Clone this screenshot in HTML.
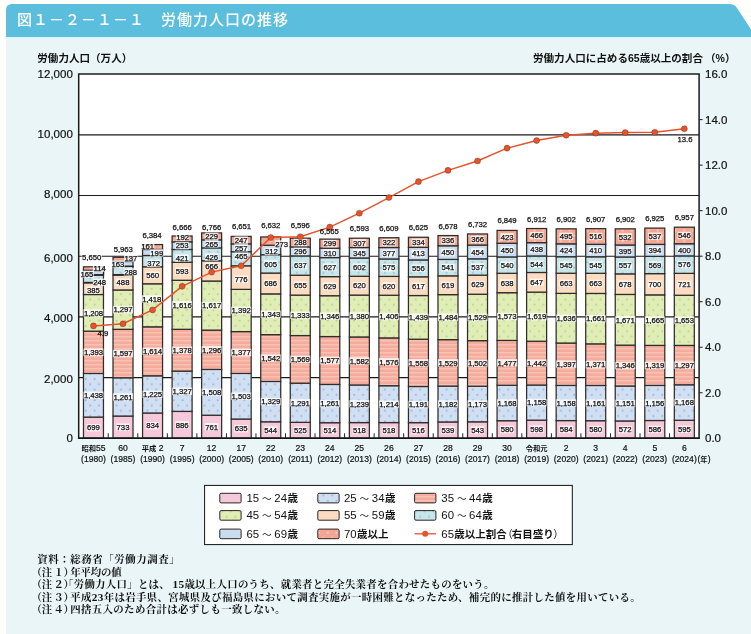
<!DOCTYPE html>
<html lang="ja"><head><meta charset="utf-8"><title>図１－２－１－１ 労働力人口の推移</title>
<style>html,body{margin:0;padding:0;background:#fff}svg{display:block}</style></head>
<body>
<svg width="751" height="634" viewBox="0 0 751 634">
<defs>
<pattern id="pB" width="8.8" height="10.6" patternUnits="userSpaceOnUse"><rect width="8.8" height="10.6" fill="#d0dff1"/><circle cx="2.2" cy="2.6" r="0.95" fill="#93b2dc"/><circle cx="6.6" cy="7.9" r="0.95" fill="#93b2dc"/></pattern>
<pattern id="pG" width="8.8" height="10.6" patternUnits="userSpaceOnUse"><rect width="8.8" height="10.6" fill="#e1edb6"/><circle cx="2.2" cy="2.6" r="0.95" fill="#b4d27c"/><circle cx="6.6" cy="7.9" r="0.95" fill="#b4d27c"/></pattern>
<pattern id="pC" width="8.8" height="10.6" patternUnits="userSpaceOnUse"><rect width="8.8" height="10.6" fill="#c8e5e9"/><circle cx="2.2" cy="2.6" r="0.95" fill="#8cc6ca"/><circle cx="6.6" cy="7.9" r="0.95" fill="#8cc6ca"/></pattern>
<pattern id="pR" width="8.8" height="10.6" patternUnits="userSpaceOnUse"><rect width="8.8" height="10.6" fill="#f3a792"/><circle cx="2.2" cy="2.6" r="0.95" fill="#fbd3c6"/><circle cx="6.6" cy="7.9" r="0.95" fill="#fbd3c6"/></pattern>
<pattern id="pS" width="8" height="4" patternUnits="userSpaceOnUse"><rect width="8" height="4" fill="#f5ac9c"/><rect y="0" width="8" height="1.5" fill="#f8c2b5"/></pattern>
</defs>
<rect x="0" y="0" width="751" height="634" fill="#fffefa"/>
<rect x="6" y="30" width="745" height="604" fill="#e9f5f6"/>
<path d="M6 37.2 V10 Q6 4 12 4 H729 Q734.5 4 737 8 L751 29.5 V37.2 Z" fill="#5bbedd"/>
<rect x="6" y="37.2" width="745" height="1.2" fill="#dbf7fc"/>
<text x="17" y="24.5" font-family="'Liberation Sans','Noto Sans CJK JP',sans-serif" font-size="15" font-weight="500" letter-spacing="1" fill="#fff">図１－２－１－１　労働力人口の推移</text>
<rect x="78.7" y="74.1" width="620.4" height="364.20000000000005" fill="#fff"/>
<line x1="78.7" y1="377.60" x2="699.1" y2="377.60" stroke="#1a1a1a" stroke-width="1.15"/>
<line x1="78.7" y1="316.90" x2="699.1" y2="316.90" stroke="#1a1a1a" stroke-width="1.15"/>
<line x1="78.7" y1="256.20" x2="699.1" y2="256.20" stroke="#1a1a1a" stroke-width="1.15"/>
<line x1="78.7" y1="195.50" x2="699.1" y2="195.50" stroke="#1a1a1a" stroke-width="1.15"/>
<line x1="78.7" y1="134.80" x2="699.1" y2="134.80" stroke="#1a1a1a" stroke-width="1.15"/>
<rect x="83.47" y="417.09" width="20.0" height="21.21" fill="#f6c9da" stroke="#302c2a" stroke-width="1.25"/>
<rect x="83.47" y="373.44" width="20.0" height="43.64" fill="url(#pB)" stroke="#302c2a" stroke-width="1.25"/>
<rect x="83.47" y="331.16" width="20.0" height="42.28" fill="url(#pS)" stroke="#302c2a" stroke-width="1.25"/>
<rect x="83.47" y="294.50" width="20.0" height="36.66" fill="url(#pG)" stroke="#302c2a" stroke-width="1.25"/>
<rect x="83.47" y="282.82" width="20.0" height="11.68" fill="#fbdcc0" stroke="#302c2a" stroke-width="1.25"/>
<rect x="83.47" y="275.29" width="20.0" height="7.53" fill="url(#pC)" stroke="#302c2a" stroke-width="1.25"/>
<rect x="83.47" y="270.28" width="20.0" height="5.01" fill="#c9dcf0" stroke="#302c2a" stroke-width="1.25"/>
<rect x="83.47" y="266.82" width="20.0" height="3.46" fill="url(#pR)" stroke="#302c2a" stroke-width="1.25"/>
<rect x="113.01" y="416.05" width="20.0" height="22.25" fill="#f6c9da" stroke="#302c2a" stroke-width="1.25"/>
<rect x="113.01" y="377.78" width="20.0" height="38.27" fill="url(#pB)" stroke="#302c2a" stroke-width="1.25"/>
<rect x="113.01" y="329.31" width="20.0" height="48.47" fill="url(#pS)" stroke="#302c2a" stroke-width="1.25"/>
<rect x="113.01" y="289.95" width="20.0" height="39.36" fill="url(#pG)" stroke="#302c2a" stroke-width="1.25"/>
<rect x="113.01" y="275.14" width="20.0" height="14.81" fill="#fbdcc0" stroke="#302c2a" stroke-width="1.25"/>
<rect x="113.01" y="266.40" width="20.0" height="8.74" fill="url(#pC)" stroke="#302c2a" stroke-width="1.25"/>
<rect x="113.01" y="261.45" width="20.0" height="4.95" fill="#c9dcf0" stroke="#302c2a" stroke-width="1.25"/>
<rect x="113.01" y="257.29" width="20.0" height="4.16" fill="url(#pR)" stroke="#302c2a" stroke-width="1.25"/>
<rect x="142.56" y="412.99" width="20.0" height="25.31" fill="#f6c9da" stroke="#302c2a" stroke-width="1.25"/>
<rect x="142.56" y="375.81" width="20.0" height="37.18" fill="url(#pB)" stroke="#302c2a" stroke-width="1.25"/>
<rect x="142.56" y="326.82" width="20.0" height="48.98" fill="url(#pS)" stroke="#302c2a" stroke-width="1.25"/>
<rect x="142.56" y="283.79" width="20.0" height="43.04" fill="url(#pG)" stroke="#302c2a" stroke-width="1.25"/>
<rect x="142.56" y="266.79" width="20.0" height="17.00" fill="#fbdcc0" stroke="#302c2a" stroke-width="1.25"/>
<rect x="142.56" y="255.50" width="20.0" height="11.29" fill="url(#pC)" stroke="#302c2a" stroke-width="1.25"/>
<rect x="142.56" y="249.46" width="20.0" height="6.04" fill="#c9dcf0" stroke="#302c2a" stroke-width="1.25"/>
<rect x="142.56" y="244.58" width="20.0" height="4.89" fill="url(#pR)" stroke="#302c2a" stroke-width="1.25"/>
<rect x="172.10" y="411.41" width="20.0" height="26.89" fill="#f6c9da" stroke="#302c2a" stroke-width="1.25"/>
<rect x="172.10" y="371.14" width="20.0" height="40.27" fill="url(#pB)" stroke="#302c2a" stroke-width="1.25"/>
<rect x="172.10" y="329.31" width="20.0" height="41.82" fill="url(#pS)" stroke="#302c2a" stroke-width="1.25"/>
<rect x="172.10" y="280.27" width="20.0" height="49.05" fill="url(#pG)" stroke="#302c2a" stroke-width="1.25"/>
<rect x="172.10" y="262.27" width="20.0" height="18.00" fill="#fbdcc0" stroke="#302c2a" stroke-width="1.25"/>
<rect x="172.10" y="249.49" width="20.0" height="12.78" fill="url(#pC)" stroke="#302c2a" stroke-width="1.25"/>
<rect x="172.10" y="241.81" width="20.0" height="7.68" fill="#c9dcf0" stroke="#302c2a" stroke-width="1.25"/>
<rect x="172.10" y="235.99" width="20.0" height="5.83" fill="url(#pR)" stroke="#302c2a" stroke-width="1.25"/>
<rect x="201.64" y="415.20" width="20.0" height="23.10" fill="#f6c9da" stroke="#302c2a" stroke-width="1.25"/>
<rect x="201.64" y="369.44" width="20.0" height="45.77" fill="url(#pB)" stroke="#302c2a" stroke-width="1.25"/>
<rect x="201.64" y="330.10" width="20.0" height="39.33" fill="url(#pS)" stroke="#302c2a" stroke-width="1.25"/>
<rect x="201.64" y="281.03" width="20.0" height="49.08" fill="url(#pG)" stroke="#302c2a" stroke-width="1.25"/>
<rect x="201.64" y="260.81" width="20.0" height="20.21" fill="#fbdcc0" stroke="#302c2a" stroke-width="1.25"/>
<rect x="201.64" y="247.88" width="20.0" height="12.93" fill="url(#pC)" stroke="#302c2a" stroke-width="1.25"/>
<rect x="201.64" y="239.84" width="20.0" height="8.04" fill="#c9dcf0" stroke="#302c2a" stroke-width="1.25"/>
<rect x="201.64" y="232.89" width="20.0" height="6.95" fill="url(#pR)" stroke="#302c2a" stroke-width="1.25"/>
<rect x="231.19" y="419.03" width="20.0" height="19.27" fill="#f6c9da" stroke="#302c2a" stroke-width="1.25"/>
<rect x="231.19" y="373.41" width="20.0" height="45.62" fill="url(#pB)" stroke="#302c2a" stroke-width="1.25"/>
<rect x="231.19" y="331.62" width="20.0" height="41.79" fill="url(#pS)" stroke="#302c2a" stroke-width="1.25"/>
<rect x="231.19" y="289.37" width="20.0" height="42.25" fill="url(#pG)" stroke="#302c2a" stroke-width="1.25"/>
<rect x="231.19" y="265.82" width="20.0" height="23.55" fill="#fbdcc0" stroke="#302c2a" stroke-width="1.25"/>
<rect x="231.19" y="251.71" width="20.0" height="14.11" fill="url(#pC)" stroke="#302c2a" stroke-width="1.25"/>
<rect x="231.19" y="243.91" width="20.0" height="7.80" fill="#c9dcf0" stroke="#302c2a" stroke-width="1.25"/>
<rect x="231.19" y="236.41" width="20.0" height="7.50" fill="url(#pR)" stroke="#302c2a" stroke-width="1.25"/>
<rect x="260.73" y="421.79" width="20.0" height="16.51" fill="#f6c9da" stroke="#302c2a" stroke-width="1.25"/>
<rect x="260.73" y="381.45" width="20.0" height="40.34" fill="url(#pB)" stroke="#302c2a" stroke-width="1.25"/>
<rect x="260.73" y="334.65" width="20.0" height="46.80" fill="url(#pS)" stroke="#302c2a" stroke-width="1.25"/>
<rect x="260.73" y="293.89" width="20.0" height="40.76" fill="url(#pG)" stroke="#302c2a" stroke-width="1.25"/>
<rect x="260.73" y="273.07" width="20.0" height="20.82" fill="#fbdcc0" stroke="#302c2a" stroke-width="1.25"/>
<rect x="260.73" y="254.71" width="20.0" height="18.36" fill="url(#pC)" stroke="#302c2a" stroke-width="1.25"/>
<rect x="260.73" y="245.24" width="20.0" height="9.47" fill="#c9dcf0" stroke="#302c2a" stroke-width="1.25"/>
<rect x="260.73" y="236.96" width="20.0" height="8.29" fill="url(#pR)" stroke="#302c2a" stroke-width="1.25"/>
<rect x="290.27" y="422.37" width="20.0" height="15.93" fill="#f6c9da" stroke="#302c2a" stroke-width="1.25"/>
<rect x="290.27" y="383.18" width="20.0" height="39.18" fill="url(#pB)" stroke="#302c2a" stroke-width="1.25"/>
<rect x="290.27" y="335.57" width="20.0" height="47.62" fill="url(#pS)" stroke="#302c2a" stroke-width="1.25"/>
<rect x="290.27" y="295.11" width="20.0" height="40.46" fill="url(#pG)" stroke="#302c2a" stroke-width="1.25"/>
<rect x="290.27" y="275.23" width="20.0" height="19.88" fill="#fbdcc0" stroke="#302c2a" stroke-width="1.25"/>
<rect x="290.27" y="255.90" width="20.0" height="19.33" fill="url(#pC)" stroke="#302c2a" stroke-width="1.25"/>
<rect x="290.27" y="246.91" width="20.0" height="8.98" fill="#c9dcf0" stroke="#302c2a" stroke-width="1.25"/>
<rect x="290.27" y="238.17" width="20.0" height="8.74" fill="url(#pR)" stroke="#302c2a" stroke-width="1.25"/>
<rect x="319.81" y="422.70" width="20.0" height="15.60" fill="#f6c9da" stroke="#302c2a" stroke-width="1.25"/>
<rect x="319.81" y="384.43" width="20.0" height="38.27" fill="url(#pB)" stroke="#302c2a" stroke-width="1.25"/>
<rect x="319.81" y="336.57" width="20.0" height="47.86" fill="url(#pS)" stroke="#302c2a" stroke-width="1.25"/>
<rect x="319.81" y="295.72" width="20.0" height="40.85" fill="url(#pG)" stroke="#302c2a" stroke-width="1.25"/>
<rect x="319.81" y="276.63" width="20.0" height="19.09" fill="#fbdcc0" stroke="#302c2a" stroke-width="1.25"/>
<rect x="319.81" y="257.60" width="20.0" height="19.03" fill="url(#pC)" stroke="#302c2a" stroke-width="1.25"/>
<rect x="319.81" y="248.19" width="20.0" height="9.41" fill="#c9dcf0" stroke="#302c2a" stroke-width="1.25"/>
<rect x="319.81" y="239.11" width="20.0" height="9.07" fill="url(#pR)" stroke="#302c2a" stroke-width="1.25"/>
<rect x="349.36" y="422.58" width="20.0" height="15.72" fill="#f6c9da" stroke="#302c2a" stroke-width="1.25"/>
<rect x="349.36" y="384.98" width="20.0" height="37.60" fill="url(#pB)" stroke="#302c2a" stroke-width="1.25"/>
<rect x="349.36" y="336.96" width="20.0" height="48.01" fill="url(#pS)" stroke="#302c2a" stroke-width="1.25"/>
<rect x="349.36" y="295.08" width="20.0" height="41.88" fill="url(#pG)" stroke="#302c2a" stroke-width="1.25"/>
<rect x="349.36" y="276.26" width="20.0" height="18.82" fill="#fbdcc0" stroke="#302c2a" stroke-width="1.25"/>
<rect x="349.36" y="257.99" width="20.0" height="18.27" fill="url(#pC)" stroke="#302c2a" stroke-width="1.25"/>
<rect x="349.36" y="247.52" width="20.0" height="10.47" fill="#c9dcf0" stroke="#302c2a" stroke-width="1.25"/>
<rect x="349.36" y="238.20" width="20.0" height="9.32" fill="url(#pR)" stroke="#302c2a" stroke-width="1.25"/>
<rect x="378.90" y="422.58" width="20.0" height="15.72" fill="#f6c9da" stroke="#302c2a" stroke-width="1.25"/>
<rect x="378.90" y="385.73" width="20.0" height="36.84" fill="url(#pB)" stroke="#302c2a" stroke-width="1.25"/>
<rect x="378.90" y="337.90" width="20.0" height="47.83" fill="url(#pS)" stroke="#302c2a" stroke-width="1.25"/>
<rect x="378.90" y="295.23" width="20.0" height="42.67" fill="url(#pG)" stroke="#302c2a" stroke-width="1.25"/>
<rect x="378.90" y="276.41" width="20.0" height="18.82" fill="#fbdcc0" stroke="#302c2a" stroke-width="1.25"/>
<rect x="378.90" y="258.96" width="20.0" height="17.45" fill="url(#pC)" stroke="#302c2a" stroke-width="1.25"/>
<rect x="378.90" y="247.52" width="20.0" height="11.44" fill="#c9dcf0" stroke="#302c2a" stroke-width="1.25"/>
<rect x="378.90" y="237.75" width="20.0" height="9.77" fill="url(#pR)" stroke="#302c2a" stroke-width="1.25"/>
<rect x="408.44" y="422.64" width="20.0" height="15.66" fill="#f6c9da" stroke="#302c2a" stroke-width="1.25"/>
<rect x="408.44" y="386.49" width="20.0" height="36.15" fill="url(#pB)" stroke="#302c2a" stroke-width="1.25"/>
<rect x="408.44" y="339.21" width="20.0" height="47.29" fill="url(#pS)" stroke="#302c2a" stroke-width="1.25"/>
<rect x="408.44" y="295.53" width="20.0" height="43.67" fill="url(#pG)" stroke="#302c2a" stroke-width="1.25"/>
<rect x="408.44" y="276.81" width="20.0" height="18.73" fill="#fbdcc0" stroke="#302c2a" stroke-width="1.25"/>
<rect x="408.44" y="259.93" width="20.0" height="16.87" fill="url(#pC)" stroke="#302c2a" stroke-width="1.25"/>
<rect x="408.44" y="247.40" width="20.0" height="12.53" fill="#c9dcf0" stroke="#302c2a" stroke-width="1.25"/>
<rect x="408.44" y="237.26" width="20.0" height="10.14" fill="url(#pR)" stroke="#302c2a" stroke-width="1.25"/>
<rect x="437.99" y="421.94" width="20.0" height="16.36" fill="#f6c9da" stroke="#302c2a" stroke-width="1.25"/>
<rect x="437.99" y="386.07" width="20.0" height="35.87" fill="url(#pB)" stroke="#302c2a" stroke-width="1.25"/>
<rect x="437.99" y="339.66" width="20.0" height="46.41" fill="url(#pS)" stroke="#302c2a" stroke-width="1.25"/>
<rect x="437.99" y="294.62" width="20.0" height="45.04" fill="url(#pG)" stroke="#302c2a" stroke-width="1.25"/>
<rect x="437.99" y="275.84" width="20.0" height="18.79" fill="#fbdcc0" stroke="#302c2a" stroke-width="1.25"/>
<rect x="437.99" y="259.42" width="20.0" height="16.42" fill="url(#pC)" stroke="#302c2a" stroke-width="1.25"/>
<rect x="437.99" y="245.76" width="20.0" height="13.66" fill="#c9dcf0" stroke="#302c2a" stroke-width="1.25"/>
<rect x="437.99" y="235.56" width="20.0" height="10.20" fill="url(#pR)" stroke="#302c2a" stroke-width="1.25"/>
<rect x="467.53" y="421.82" width="20.0" height="16.48" fill="#f6c9da" stroke="#302c2a" stroke-width="1.25"/>
<rect x="467.53" y="386.22" width="20.0" height="35.60" fill="url(#pB)" stroke="#302c2a" stroke-width="1.25"/>
<rect x="467.53" y="340.63" width="20.0" height="45.59" fill="url(#pS)" stroke="#302c2a" stroke-width="1.25"/>
<rect x="467.53" y="294.23" width="20.0" height="46.41" fill="url(#pG)" stroke="#302c2a" stroke-width="1.25"/>
<rect x="467.53" y="275.14" width="20.0" height="19.09" fill="#fbdcc0" stroke="#302c2a" stroke-width="1.25"/>
<rect x="467.53" y="258.84" width="20.0" height="16.30" fill="url(#pC)" stroke="#302c2a" stroke-width="1.25"/>
<rect x="467.53" y="245.06" width="20.0" height="13.78" fill="#c9dcf0" stroke="#302c2a" stroke-width="1.25"/>
<rect x="467.53" y="233.95" width="20.0" height="11.11" fill="url(#pR)" stroke="#302c2a" stroke-width="1.25"/>
<rect x="497.07" y="420.70" width="20.0" height="17.60" fill="#f6c9da" stroke="#302c2a" stroke-width="1.25"/>
<rect x="497.07" y="385.25" width="20.0" height="35.45" fill="url(#pB)" stroke="#302c2a" stroke-width="1.25"/>
<rect x="497.07" y="340.42" width="20.0" height="44.83" fill="url(#pS)" stroke="#302c2a" stroke-width="1.25"/>
<rect x="497.07" y="292.68" width="20.0" height="47.74" fill="url(#pG)" stroke="#302c2a" stroke-width="1.25"/>
<rect x="497.07" y="273.32" width="20.0" height="19.36" fill="#fbdcc0" stroke="#302c2a" stroke-width="1.25"/>
<rect x="497.07" y="256.93" width="20.0" height="16.39" fill="url(#pC)" stroke="#302c2a" stroke-width="1.25"/>
<rect x="497.07" y="243.27" width="20.0" height="13.66" fill="#c9dcf0" stroke="#302c2a" stroke-width="1.25"/>
<rect x="497.07" y="230.43" width="20.0" height="12.84" fill="url(#pR)" stroke="#302c2a" stroke-width="1.25"/>
<rect x="526.61" y="420.15" width="20.0" height="18.15" fill="#f6c9da" stroke="#302c2a" stroke-width="1.25"/>
<rect x="526.61" y="385.01" width="20.0" height="35.15" fill="url(#pB)" stroke="#302c2a" stroke-width="1.25"/>
<rect x="526.61" y="341.24" width="20.0" height="43.76" fill="url(#pS)" stroke="#302c2a" stroke-width="1.25"/>
<rect x="526.61" y="292.10" width="20.0" height="49.14" fill="url(#pG)" stroke="#302c2a" stroke-width="1.25"/>
<rect x="526.61" y="272.47" width="20.0" height="19.64" fill="#fbdcc0" stroke="#302c2a" stroke-width="1.25"/>
<rect x="526.61" y="255.96" width="20.0" height="16.51" fill="url(#pC)" stroke="#302c2a" stroke-width="1.25"/>
<rect x="526.61" y="242.66" width="20.0" height="13.29" fill="#c9dcf0" stroke="#302c2a" stroke-width="1.25"/>
<rect x="526.61" y="228.52" width="20.0" height="14.14" fill="url(#pR)" stroke="#302c2a" stroke-width="1.25"/>
<rect x="556.16" y="420.58" width="20.0" height="17.72" fill="#f6c9da" stroke="#302c2a" stroke-width="1.25"/>
<rect x="556.16" y="385.43" width="20.0" height="35.15" fill="url(#pB)" stroke="#302c2a" stroke-width="1.25"/>
<rect x="556.16" y="343.03" width="20.0" height="42.40" fill="url(#pS)" stroke="#302c2a" stroke-width="1.25"/>
<rect x="556.16" y="293.38" width="20.0" height="49.65" fill="url(#pG)" stroke="#302c2a" stroke-width="1.25"/>
<rect x="556.16" y="273.26" width="20.0" height="20.12" fill="#fbdcc0" stroke="#302c2a" stroke-width="1.25"/>
<rect x="556.16" y="256.72" width="20.0" height="16.54" fill="url(#pC)" stroke="#302c2a" stroke-width="1.25"/>
<rect x="556.16" y="243.85" width="20.0" height="12.87" fill="#c9dcf0" stroke="#302c2a" stroke-width="1.25"/>
<rect x="556.16" y="228.82" width="20.0" height="15.02" fill="url(#pR)" stroke="#302c2a" stroke-width="1.25"/>
<rect x="585.70" y="420.70" width="20.0" height="17.60" fill="#f6c9da" stroke="#302c2a" stroke-width="1.25"/>
<rect x="585.70" y="385.46" width="20.0" height="35.24" fill="url(#pB)" stroke="#302c2a" stroke-width="1.25"/>
<rect x="585.70" y="343.85" width="20.0" height="41.61" fill="url(#pS)" stroke="#302c2a" stroke-width="1.25"/>
<rect x="585.70" y="293.44" width="20.0" height="50.41" fill="url(#pG)" stroke="#302c2a" stroke-width="1.25"/>
<rect x="585.70" y="273.32" width="20.0" height="20.12" fill="#fbdcc0" stroke="#302c2a" stroke-width="1.25"/>
<rect x="585.70" y="256.78" width="20.0" height="16.54" fill="url(#pC)" stroke="#302c2a" stroke-width="1.25"/>
<rect x="585.70" y="244.33" width="20.0" height="12.44" fill="#c9dcf0" stroke="#302c2a" stroke-width="1.25"/>
<rect x="585.70" y="228.67" width="20.0" height="15.66" fill="url(#pR)" stroke="#302c2a" stroke-width="1.25"/>
<rect x="615.24" y="420.94" width="20.0" height="17.36" fill="#f6c9da" stroke="#302c2a" stroke-width="1.25"/>
<rect x="615.24" y="386.01" width="20.0" height="34.93" fill="url(#pB)" stroke="#302c2a" stroke-width="1.25"/>
<rect x="615.24" y="345.16" width="20.0" height="40.85" fill="url(#pS)" stroke="#302c2a" stroke-width="1.25"/>
<rect x="615.24" y="294.44" width="20.0" height="50.71" fill="url(#pG)" stroke="#302c2a" stroke-width="1.25"/>
<rect x="615.24" y="273.86" width="20.0" height="20.58" fill="#fbdcc0" stroke="#302c2a" stroke-width="1.25"/>
<rect x="615.24" y="256.96" width="20.0" height="16.90" fill="url(#pC)" stroke="#302c2a" stroke-width="1.25"/>
<rect x="615.24" y="244.97" width="20.0" height="11.99" fill="#c9dcf0" stroke="#302c2a" stroke-width="1.25"/>
<rect x="615.24" y="228.82" width="20.0" height="16.15" fill="url(#pR)" stroke="#302c2a" stroke-width="1.25"/>
<rect x="644.79" y="420.51" width="20.0" height="17.79" fill="#f6c9da" stroke="#302c2a" stroke-width="1.25"/>
<rect x="644.79" y="385.43" width="20.0" height="35.08" fill="url(#pB)" stroke="#302c2a" stroke-width="1.25"/>
<rect x="644.79" y="345.40" width="20.0" height="40.03" fill="url(#pS)" stroke="#302c2a" stroke-width="1.25"/>
<rect x="644.79" y="294.87" width="20.0" height="50.53" fill="url(#pG)" stroke="#302c2a" stroke-width="1.25"/>
<rect x="644.79" y="273.62" width="20.0" height="21.25" fill="#fbdcc0" stroke="#302c2a" stroke-width="1.25"/>
<rect x="644.79" y="256.35" width="20.0" height="17.27" fill="url(#pC)" stroke="#302c2a" stroke-width="1.25"/>
<rect x="644.79" y="244.39" width="20.0" height="11.96" fill="#c9dcf0" stroke="#302c2a" stroke-width="1.25"/>
<rect x="644.79" y="228.10" width="20.0" height="16.30" fill="url(#pR)" stroke="#302c2a" stroke-width="1.25"/>
<rect x="674.33" y="420.24" width="20.0" height="18.06" fill="#f6c9da" stroke="#302c2a" stroke-width="1.25"/>
<rect x="674.33" y="384.79" width="20.0" height="35.45" fill="url(#pB)" stroke="#302c2a" stroke-width="1.25"/>
<rect x="674.33" y="345.43" width="20.0" height="39.36" fill="url(#pS)" stroke="#302c2a" stroke-width="1.25"/>
<rect x="674.33" y="295.26" width="20.0" height="50.17" fill="url(#pG)" stroke="#302c2a" stroke-width="1.25"/>
<rect x="674.33" y="273.38" width="20.0" height="21.88" fill="#fbdcc0" stroke="#302c2a" stroke-width="1.25"/>
<rect x="674.33" y="255.90" width="20.0" height="17.48" fill="url(#pC)" stroke="#302c2a" stroke-width="1.25"/>
<rect x="674.33" y="243.76" width="20.0" height="12.14" fill="#c9dcf0" stroke="#302c2a" stroke-width="1.25"/>
<rect x="674.33" y="227.19" width="20.0" height="16.57" fill="url(#pR)" stroke="#302c2a" stroke-width="1.25"/>
<line x1="108.24" y1="438.3" x2="108.24" y2="433.3" stroke="#222" stroke-width="1"/>
<line x1="137.79" y1="438.3" x2="137.79" y2="433.3" stroke="#222" stroke-width="1"/>
<line x1="167.33" y1="438.3" x2="167.33" y2="433.3" stroke="#222" stroke-width="1"/>
<line x1="196.87" y1="438.3" x2="196.87" y2="433.3" stroke="#222" stroke-width="1"/>
<line x1="226.41" y1="438.3" x2="226.41" y2="433.3" stroke="#222" stroke-width="1"/>
<line x1="255.96" y1="438.3" x2="255.96" y2="433.3" stroke="#222" stroke-width="1"/>
<line x1="285.50" y1="438.3" x2="285.50" y2="433.3" stroke="#222" stroke-width="1"/>
<line x1="315.04" y1="438.3" x2="315.04" y2="433.3" stroke="#222" stroke-width="1"/>
<line x1="344.59" y1="438.3" x2="344.59" y2="433.3" stroke="#222" stroke-width="1"/>
<line x1="374.13" y1="438.3" x2="374.13" y2="433.3" stroke="#222" stroke-width="1"/>
<line x1="403.67" y1="438.3" x2="403.67" y2="433.3" stroke="#222" stroke-width="1"/>
<line x1="433.21" y1="438.3" x2="433.21" y2="433.3" stroke="#222" stroke-width="1"/>
<line x1="462.76" y1="438.3" x2="462.76" y2="433.3" stroke="#222" stroke-width="1"/>
<line x1="492.30" y1="438.3" x2="492.30" y2="433.3" stroke="#222" stroke-width="1"/>
<line x1="521.84" y1="438.3" x2="521.84" y2="433.3" stroke="#222" stroke-width="1"/>
<line x1="551.39" y1="438.3" x2="551.39" y2="433.3" stroke="#222" stroke-width="1"/>
<line x1="580.93" y1="438.3" x2="580.93" y2="433.3" stroke="#222" stroke-width="1"/>
<line x1="610.47" y1="438.3" x2="610.47" y2="433.3" stroke="#222" stroke-width="1"/>
<line x1="640.01" y1="438.3" x2="640.01" y2="433.3" stroke="#222" stroke-width="1"/>
<line x1="669.56" y1="438.3" x2="669.56" y2="433.3" stroke="#222" stroke-width="1"/>
<path d="M78.7 438.3 V74.1 H699.1 V438.3 Z" fill="none" stroke="#1c1c1c" stroke-width="1.5"/>
<line x1="77.95" y1="438.3" x2="699.85" y2="438.3" stroke="#151515" stroke-width="1.6"/>
<line x1="699.1" y1="392.77" x2="702.6" y2="392.77" stroke="#1c1c1c" stroke-width="1"/>
<line x1="699.1" y1="347.25" x2="702.6" y2="347.25" stroke="#1c1c1c" stroke-width="1"/>
<line x1="699.1" y1="301.73" x2="702.6" y2="301.73" stroke="#1c1c1c" stroke-width="1"/>
<line x1="699.1" y1="256.20" x2="702.6" y2="256.20" stroke="#1c1c1c" stroke-width="1"/>
<line x1="699.1" y1="210.67" x2="702.6" y2="210.67" stroke="#1c1c1c" stroke-width="1"/>
<line x1="699.1" y1="165.15" x2="702.6" y2="165.15" stroke="#1c1c1c" stroke-width="1"/>
<line x1="699.1" y1="119.62" x2="702.6" y2="119.62" stroke="#1c1c1c" stroke-width="1"/>
<g stroke="#222" stroke-width="1">
<path d="M94 274.6 H103.7 V271.5" fill="none"/>
<path d="M84.5 282.3 H93" fill="none"/>
<path d="M124 266.2 H133.6" fill="none"/>
<path d="M113 274.6 H124" fill="none"/>
</g>
<g font-family="'Liberation Sans',sans-serif" font-size="7.75" text-anchor="middle" fill="#111" stroke="#111" stroke-width="0.25" letter-spacing="-0.05">
<rect x="86.71" y="423.99" width="13.53" height="7.4" fill="#fff" fill-opacity="0.78" stroke="none"/>
<rect x="83.48" y="391.56" width="19.99" height="7.4" fill="#fff" fill-opacity="0.78" stroke="none"/>
<rect x="83.48" y="348.60" width="19.99" height="7.4" fill="#fff" fill-opacity="0.78" stroke="none"/>
<rect x="83.48" y="309.13" width="19.99" height="7.4" fill="#fff" fill-opacity="0.78" stroke="none"/>
<rect x="86.71" y="286.50" width="13.53" height="7.4" fill="#fff" fill-opacity="0.78" stroke="none"/>
<rect x="92.81" y="278.60" width="13.53" height="7.4" fill="#fff" fill-opacity="0.78" stroke="none"/>
<rect x="80.21" y="270.70" width="13.53" height="7.4" fill="#fff" fill-opacity="0.78" stroke="none"/>
<rect x="92.81" y="264.40" width="13.53" height="7.4" fill="#fff" fill-opacity="0.78" stroke="none"/>
<rect x="81.68" y="253.40" width="19.99" height="7.4" fill="#fff" fill-opacity="0.95" stroke="none"/>
<rect x="116.25" y="423.48" width="13.53" height="7.4" fill="#fff" fill-opacity="0.78" stroke="none"/>
<rect x="113.02" y="393.22" width="19.99" height="7.4" fill="#fff" fill-opacity="0.78" stroke="none"/>
<rect x="113.02" y="349.85" width="19.99" height="7.4" fill="#fff" fill-opacity="0.78" stroke="none"/>
<rect x="113.02" y="305.93" width="19.99" height="7.4" fill="#fff" fill-opacity="0.78" stroke="none"/>
<rect x="116.25" y="278.60" width="13.53" height="7.4" fill="#fff" fill-opacity="0.78" stroke="none"/>
<rect x="123.85" y="268.30" width="13.53" height="7.4" fill="#fff" fill-opacity="0.78" stroke="none"/>
<rect x="111.05" y="260.40" width="13.53" height="7.4" fill="#fff" fill-opacity="0.78" stroke="none"/>
<rect x="124.05" y="254.30" width="13.53" height="7.4" fill="#fff" fill-opacity="0.78" stroke="none"/>
<rect x="113.32" y="245.50" width="19.99" height="7.4" fill="#fff" fill-opacity="0.95" stroke="none"/>
<rect x="145.79" y="421.94" width="13.53" height="7.4" fill="#fff" fill-opacity="0.78" stroke="none"/>
<rect x="142.56" y="390.70" width="19.99" height="7.4" fill="#fff" fill-opacity="0.78" stroke="none"/>
<rect x="142.56" y="347.62" width="19.99" height="7.4" fill="#fff" fill-opacity="0.78" stroke="none"/>
<rect x="141.76" y="295.30" width="19.99" height="7.4" fill="#fff" fill-opacity="0.78" stroke="none"/>
<rect x="145.79" y="271.59" width="13.53" height="7.4" fill="#fff" fill-opacity="0.78" stroke="none"/>
<rect x="146.79" y="259.60" width="13.53" height="7.4" fill="#fff" fill-opacity="0.78" stroke="none"/>
<rect x="149.99" y="249.20" width="13.53" height="7.4" fill="#fff" fill-opacity="0.78" stroke="none"/>
<rect x="140.79" y="242.10" width="13.53" height="7.4" fill="#fff" fill-opacity="0.78" stroke="none"/>
<rect x="142.06" y="231.70" width="19.99" height="7.4" fill="#fff" fill-opacity="0.95" stroke="none"/>
<rect x="175.34" y="421.15" width="13.53" height="7.4" fill="#fff" fill-opacity="0.78" stroke="none"/>
<rect x="172.10" y="387.57" width="19.99" height="7.4" fill="#fff" fill-opacity="0.78" stroke="none"/>
<rect x="172.10" y="346.52" width="19.99" height="7.4" fill="#fff" fill-opacity="0.78" stroke="none"/>
<rect x="172.10" y="301.09" width="19.99" height="7.4" fill="#fff" fill-opacity="0.78" stroke="none"/>
<rect x="175.34" y="267.57" width="13.53" height="7.4" fill="#fff" fill-opacity="0.78" stroke="none"/>
<rect x="175.34" y="254.30" width="13.53" height="7.4" fill="#fff" fill-opacity="0.78" stroke="none"/>
<rect x="175.34" y="241.95" width="13.53" height="7.4" fill="#fff" fill-opacity="0.78" stroke="none"/>
<rect x="175.84" y="233.70" width="13.53" height="7.4" fill="#fff" fill-opacity="0.78" stroke="none"/>
<rect x="172.10" y="223.60" width="19.99" height="7.4" fill="#fff" fill-opacity="0.95" stroke="none"/>
<rect x="204.88" y="423.05" width="13.53" height="7.4" fill="#fff" fill-opacity="0.78" stroke="none"/>
<rect x="201.65" y="388.62" width="19.99" height="7.4" fill="#fff" fill-opacity="0.78" stroke="none"/>
<rect x="201.65" y="346.07" width="19.99" height="7.4" fill="#fff" fill-opacity="0.78" stroke="none"/>
<rect x="201.65" y="301.86" width="19.99" height="7.4" fill="#fff" fill-opacity="0.78" stroke="none"/>
<rect x="204.88" y="262.40" width="13.53" height="7.4" fill="#fff" fill-opacity="0.78" stroke="none"/>
<rect x="204.88" y="253.40" width="13.53" height="7.4" fill="#fff" fill-opacity="0.78" stroke="none"/>
<rect x="204.88" y="240.16" width="13.53" height="7.4" fill="#fff" fill-opacity="0.78" stroke="none"/>
<rect x="204.88" y="232.67" width="13.53" height="7.4" fill="#fff" fill-opacity="0.78" stroke="none"/>
<rect x="201.65" y="223.10" width="19.99" height="7.4" fill="#fff" fill-opacity="0.95" stroke="none"/>
<rect x="234.42" y="424.96" width="13.53" height="7.4" fill="#fff" fill-opacity="0.78" stroke="none"/>
<rect x="231.19" y="392.52" width="19.99" height="7.4" fill="#fff" fill-opacity="0.78" stroke="none"/>
<rect x="231.19" y="348.82" width="19.99" height="7.4" fill="#fff" fill-opacity="0.78" stroke="none"/>
<rect x="231.19" y="306.80" width="19.99" height="7.4" fill="#fff" fill-opacity="0.78" stroke="none"/>
<rect x="234.42" y="275.60" width="13.53" height="7.4" fill="#fff" fill-opacity="0.78" stroke="none"/>
<rect x="234.42" y="252.70" width="13.53" height="7.4" fill="#fff" fill-opacity="0.78" stroke="none"/>
<rect x="234.42" y="244.11" width="13.53" height="7.4" fill="#fff" fill-opacity="0.78" stroke="none"/>
<rect x="234.42" y="236.46" width="13.53" height="7.4" fill="#fff" fill-opacity="0.78" stroke="none"/>
<rect x="231.49" y="222.90" width="19.99" height="7.4" fill="#fff" fill-opacity="0.95" stroke="none"/>
<rect x="263.97" y="426.34" width="13.53" height="7.4" fill="#fff" fill-opacity="0.78" stroke="none"/>
<rect x="260.73" y="397.92" width="19.99" height="7.4" fill="#fff" fill-opacity="0.78" stroke="none"/>
<rect x="260.73" y="354.35" width="19.99" height="7.4" fill="#fff" fill-opacity="0.78" stroke="none"/>
<rect x="260.73" y="310.57" width="19.99" height="7.4" fill="#fff" fill-opacity="0.78" stroke="none"/>
<rect x="263.97" y="279.78" width="13.53" height="7.4" fill="#fff" fill-opacity="0.78" stroke="none"/>
<rect x="263.97" y="260.19" width="13.53" height="7.4" fill="#fff" fill-opacity="0.78" stroke="none"/>
<rect x="264.67" y="247.80" width="13.53" height="7.4" fill="#fff" fill-opacity="0.78" stroke="none"/>
<rect x="274.77" y="240.30" width="13.53" height="7.4" fill="#fff" fill-opacity="0.78" stroke="none"/>
<rect x="260.73" y="221.90" width="19.99" height="7.4" fill="#fff" fill-opacity="0.95" stroke="none"/>
<rect x="293.51" y="426.63" width="13.53" height="7.4" fill="#fff" fill-opacity="0.78" stroke="none"/>
<rect x="290.28" y="399.08" width="19.99" height="7.4" fill="#fff" fill-opacity="0.78" stroke="none"/>
<rect x="290.28" y="355.67" width="19.99" height="7.4" fill="#fff" fill-opacity="0.78" stroke="none"/>
<rect x="290.28" y="311.64" width="19.99" height="7.4" fill="#fff" fill-opacity="0.78" stroke="none"/>
<rect x="293.51" y="281.47" width="13.53" height="7.4" fill="#fff" fill-opacity="0.78" stroke="none"/>
<rect x="293.51" y="261.86" width="13.53" height="7.4" fill="#fff" fill-opacity="0.78" stroke="none"/>
<rect x="293.51" y="247.70" width="13.53" height="7.4" fill="#fff" fill-opacity="0.78" stroke="none"/>
<rect x="293.51" y="238.84" width="13.53" height="7.4" fill="#fff" fill-opacity="0.78" stroke="none"/>
<rect x="290.28" y="221.90" width="19.99" height="7.4" fill="#fff" fill-opacity="0.95" stroke="none"/>
<rect x="323.05" y="426.80" width="13.53" height="7.4" fill="#fff" fill-opacity="0.78" stroke="none"/>
<rect x="319.82" y="399.86" width="19.99" height="7.4" fill="#fff" fill-opacity="0.78" stroke="none"/>
<rect x="319.82" y="356.80" width="19.99" height="7.4" fill="#fff" fill-opacity="0.78" stroke="none"/>
<rect x="319.82" y="312.44" width="19.99" height="7.4" fill="#fff" fill-opacity="0.78" stroke="none"/>
<rect x="323.05" y="282.47" width="13.53" height="7.4" fill="#fff" fill-opacity="0.78" stroke="none"/>
<rect x="323.05" y="263.41" width="13.53" height="7.4" fill="#fff" fill-opacity="0.78" stroke="none"/>
<rect x="323.05" y="249.19" width="13.53" height="7.4" fill="#fff" fill-opacity="0.78" stroke="none"/>
<rect x="323.05" y="239.95" width="13.53" height="7.4" fill="#fff" fill-opacity="0.78" stroke="none"/>
<rect x="319.32" y="228.00" width="19.99" height="7.4" fill="#fff" fill-opacity="0.95" stroke="none"/>
<rect x="352.59" y="426.74" width="13.53" height="7.4" fill="#fff" fill-opacity="0.78" stroke="none"/>
<rect x="349.36" y="400.08" width="19.99" height="7.4" fill="#fff" fill-opacity="0.78" stroke="none"/>
<rect x="349.36" y="357.27" width="19.99" height="7.4" fill="#fff" fill-opacity="0.78" stroke="none"/>
<rect x="349.36" y="312.32" width="19.99" height="7.4" fill="#fff" fill-opacity="0.78" stroke="none"/>
<rect x="352.59" y="281.97" width="13.53" height="7.4" fill="#fff" fill-opacity="0.78" stroke="none"/>
<rect x="352.59" y="263.43" width="13.53" height="7.4" fill="#fff" fill-opacity="0.78" stroke="none"/>
<rect x="352.59" y="249.06" width="13.53" height="7.4" fill="#fff" fill-opacity="0.78" stroke="none"/>
<rect x="352.59" y="239.16" width="13.53" height="7.4" fill="#fff" fill-opacity="0.78" stroke="none"/>
<rect x="349.36" y="224.80" width="19.99" height="7.4" fill="#fff" fill-opacity="0.95" stroke="none"/>
<rect x="382.14" y="426.74" width="13.53" height="7.4" fill="#fff" fill-opacity="0.78" stroke="none"/>
<rect x="378.90" y="400.46" width="19.99" height="7.4" fill="#fff" fill-opacity="0.78" stroke="none"/>
<rect x="378.90" y="358.12" width="19.99" height="7.4" fill="#fff" fill-opacity="0.78" stroke="none"/>
<rect x="378.90" y="312.87" width="19.99" height="7.4" fill="#fff" fill-opacity="0.78" stroke="none"/>
<rect x="382.14" y="282.12" width="13.53" height="7.4" fill="#fff" fill-opacity="0.78" stroke="none"/>
<rect x="382.14" y="263.99" width="13.53" height="7.4" fill="#fff" fill-opacity="0.78" stroke="none"/>
<rect x="382.14" y="249.54" width="13.53" height="7.4" fill="#fff" fill-opacity="0.78" stroke="none"/>
<rect x="382.14" y="238.93" width="13.53" height="7.4" fill="#fff" fill-opacity="0.78" stroke="none"/>
<rect x="378.90" y="224.35" width="19.99" height="7.4" fill="#fff" fill-opacity="0.95" stroke="none"/>
<rect x="411.68" y="426.77" width="13.53" height="7.4" fill="#fff" fill-opacity="0.78" stroke="none"/>
<rect x="408.45" y="400.87" width="19.99" height="7.4" fill="#fff" fill-opacity="0.78" stroke="none"/>
<rect x="408.45" y="359.15" width="19.99" height="7.4" fill="#fff" fill-opacity="0.78" stroke="none"/>
<rect x="408.45" y="313.67" width="19.99" height="7.4" fill="#fff" fill-opacity="0.78" stroke="none"/>
<rect x="411.68" y="282.47" width="13.53" height="7.4" fill="#fff" fill-opacity="0.78" stroke="none"/>
<rect x="411.68" y="264.67" width="13.53" height="7.4" fill="#fff" fill-opacity="0.78" stroke="none"/>
<rect x="411.68" y="249.97" width="13.53" height="7.4" fill="#fff" fill-opacity="0.78" stroke="none"/>
<rect x="411.68" y="238.63" width="13.53" height="7.4" fill="#fff" fill-opacity="0.78" stroke="none"/>
<rect x="408.45" y="223.86" width="19.99" height="7.4" fill="#fff" fill-opacity="0.95" stroke="none"/>
<rect x="441.22" y="426.42" width="13.53" height="7.4" fill="#fff" fill-opacity="0.78" stroke="none"/>
<rect x="437.99" y="400.30" width="19.99" height="7.4" fill="#fff" fill-opacity="0.78" stroke="none"/>
<rect x="437.99" y="359.17" width="19.99" height="7.4" fill="#fff" fill-opacity="0.78" stroke="none"/>
<rect x="437.99" y="313.44" width="19.99" height="7.4" fill="#fff" fill-opacity="0.78" stroke="none"/>
<rect x="441.22" y="281.53" width="13.53" height="7.4" fill="#fff" fill-opacity="0.78" stroke="none"/>
<rect x="441.22" y="263.93" width="13.53" height="7.4" fill="#fff" fill-opacity="0.78" stroke="none"/>
<rect x="441.22" y="248.89" width="13.53" height="7.4" fill="#fff" fill-opacity="0.78" stroke="none"/>
<rect x="441.22" y="236.96" width="13.53" height="7.4" fill="#fff" fill-opacity="0.78" stroke="none"/>
<rect x="437.99" y="222.16" width="19.99" height="7.4" fill="#fff" fill-opacity="0.95" stroke="none"/>
<rect x="470.77" y="426.36" width="13.53" height="7.4" fill="#fff" fill-opacity="0.78" stroke="none"/>
<rect x="467.53" y="400.32" width="19.99" height="7.4" fill="#fff" fill-opacity="0.78" stroke="none"/>
<rect x="467.53" y="359.73" width="19.99" height="7.4" fill="#fff" fill-opacity="0.78" stroke="none"/>
<rect x="467.53" y="313.73" width="19.99" height="7.4" fill="#fff" fill-opacity="0.78" stroke="none"/>
<rect x="470.77" y="280.98" width="13.53" height="7.4" fill="#fff" fill-opacity="0.78" stroke="none"/>
<rect x="470.77" y="263.29" width="13.53" height="7.4" fill="#fff" fill-opacity="0.78" stroke="none"/>
<rect x="470.77" y="248.25" width="13.53" height="7.4" fill="#fff" fill-opacity="0.78" stroke="none"/>
<rect x="470.77" y="235.81" width="13.53" height="7.4" fill="#fff" fill-opacity="0.78" stroke="none"/>
<rect x="467.53" y="220.55" width="19.99" height="7.4" fill="#fff" fill-opacity="0.95" stroke="none"/>
<rect x="500.31" y="425.80" width="13.53" height="7.4" fill="#fff" fill-opacity="0.78" stroke="none"/>
<rect x="497.08" y="399.27" width="19.99" height="7.4" fill="#fff" fill-opacity="0.78" stroke="none"/>
<rect x="497.08" y="359.13" width="19.99" height="7.4" fill="#fff" fill-opacity="0.78" stroke="none"/>
<rect x="497.08" y="312.85" width="19.99" height="7.4" fill="#fff" fill-opacity="0.78" stroke="none"/>
<rect x="500.31" y="279.30" width="13.53" height="7.4" fill="#fff" fill-opacity="0.78" stroke="none"/>
<rect x="500.31" y="261.42" width="13.53" height="7.4" fill="#fff" fill-opacity="0.78" stroke="none"/>
<rect x="500.31" y="246.40" width="13.53" height="7.4" fill="#fff" fill-opacity="0.78" stroke="none"/>
<rect x="500.31" y="233.15" width="13.53" height="7.4" fill="#fff" fill-opacity="0.78" stroke="none"/>
<rect x="497.08" y="217.03" width="19.99" height="7.4" fill="#fff" fill-opacity="0.95" stroke="none"/>
<rect x="529.85" y="425.53" width="13.53" height="7.4" fill="#fff" fill-opacity="0.78" stroke="none"/>
<rect x="526.62" y="398.88" width="19.99" height="7.4" fill="#fff" fill-opacity="0.78" stroke="none"/>
<rect x="526.62" y="359.42" width="19.99" height="7.4" fill="#fff" fill-opacity="0.78" stroke="none"/>
<rect x="526.62" y="312.97" width="19.99" height="7.4" fill="#fff" fill-opacity="0.78" stroke="none"/>
<rect x="529.85" y="278.59" width="13.53" height="7.4" fill="#fff" fill-opacity="0.78" stroke="none"/>
<rect x="529.85" y="260.51" width="13.53" height="7.4" fill="#fff" fill-opacity="0.78" stroke="none"/>
<rect x="529.85" y="245.61" width="13.53" height="7.4" fill="#fff" fill-opacity="0.78" stroke="none"/>
<rect x="529.85" y="231.89" width="13.53" height="7.4" fill="#fff" fill-opacity="0.78" stroke="none"/>
<rect x="526.62" y="215.12" width="19.99" height="7.4" fill="#fff" fill-opacity="0.95" stroke="none"/>
<rect x="559.39" y="425.74" width="13.53" height="7.4" fill="#fff" fill-opacity="0.78" stroke="none"/>
<rect x="556.16" y="399.30" width="19.99" height="7.4" fill="#fff" fill-opacity="0.78" stroke="none"/>
<rect x="556.16" y="360.53" width="19.99" height="7.4" fill="#fff" fill-opacity="0.78" stroke="none"/>
<rect x="556.16" y="314.51" width="19.99" height="7.4" fill="#fff" fill-opacity="0.78" stroke="none"/>
<rect x="559.39" y="279.62" width="13.53" height="7.4" fill="#fff" fill-opacity="0.78" stroke="none"/>
<rect x="559.39" y="261.29" width="13.53" height="7.4" fill="#fff" fill-opacity="0.78" stroke="none"/>
<rect x="559.39" y="246.58" width="13.53" height="7.4" fill="#fff" fill-opacity="0.78" stroke="none"/>
<rect x="559.39" y="232.64" width="13.53" height="7.4" fill="#fff" fill-opacity="0.78" stroke="none"/>
<rect x="556.16" y="215.42" width="19.99" height="7.4" fill="#fff" fill-opacity="0.95" stroke="none"/>
<rect x="588.94" y="425.80" width="13.53" height="7.4" fill="#fff" fill-opacity="0.78" stroke="none"/>
<rect x="585.70" y="399.38" width="19.99" height="7.4" fill="#fff" fill-opacity="0.78" stroke="none"/>
<rect x="585.70" y="360.96" width="19.99" height="7.4" fill="#fff" fill-opacity="0.78" stroke="none"/>
<rect x="585.70" y="314.95" width="19.99" height="7.4" fill="#fff" fill-opacity="0.78" stroke="none"/>
<rect x="588.94" y="279.68" width="13.53" height="7.4" fill="#fff" fill-opacity="0.78" stroke="none"/>
<rect x="588.94" y="261.35" width="13.53" height="7.4" fill="#fff" fill-opacity="0.78" stroke="none"/>
<rect x="588.94" y="246.85" width="13.53" height="7.4" fill="#fff" fill-opacity="0.78" stroke="none"/>
<rect x="588.94" y="232.80" width="13.53" height="7.4" fill="#fff" fill-opacity="0.78" stroke="none"/>
<rect x="585.70" y="215.27" width="19.99" height="7.4" fill="#fff" fill-opacity="0.95" stroke="none"/>
<rect x="618.48" y="425.92" width="13.53" height="7.4" fill="#fff" fill-opacity="0.78" stroke="none"/>
<rect x="615.25" y="399.77" width="19.99" height="7.4" fill="#fff" fill-opacity="0.78" stroke="none"/>
<rect x="615.25" y="361.88" width="19.99" height="7.4" fill="#fff" fill-opacity="0.78" stroke="none"/>
<rect x="615.25" y="316.10" width="19.99" height="7.4" fill="#fff" fill-opacity="0.78" stroke="none"/>
<rect x="618.48" y="280.45" width="13.53" height="7.4" fill="#fff" fill-opacity="0.78" stroke="none"/>
<rect x="618.48" y="261.71" width="13.53" height="7.4" fill="#fff" fill-opacity="0.78" stroke="none"/>
<rect x="618.48" y="247.26" width="13.53" height="7.4" fill="#fff" fill-opacity="0.78" stroke="none"/>
<rect x="618.48" y="233.20" width="13.53" height="7.4" fill="#fff" fill-opacity="0.78" stroke="none"/>
<rect x="615.25" y="215.42" width="19.99" height="7.4" fill="#fff" fill-opacity="0.95" stroke="none"/>
<rect x="648.02" y="425.71" width="13.53" height="7.4" fill="#fff" fill-opacity="0.78" stroke="none"/>
<rect x="644.79" y="399.27" width="19.99" height="7.4" fill="#fff" fill-opacity="0.78" stroke="none"/>
<rect x="644.79" y="361.71" width="19.99" height="7.4" fill="#fff" fill-opacity="0.78" stroke="none"/>
<rect x="644.79" y="316.43" width="19.99" height="7.4" fill="#fff" fill-opacity="0.78" stroke="none"/>
<rect x="648.02" y="280.54" width="13.53" height="7.4" fill="#fff" fill-opacity="0.78" stroke="none"/>
<rect x="648.02" y="261.29" width="13.53" height="7.4" fill="#fff" fill-opacity="0.78" stroke="none"/>
<rect x="648.02" y="246.67" width="13.53" height="7.4" fill="#fff" fill-opacity="0.78" stroke="none"/>
<rect x="648.02" y="232.54" width="13.53" height="7.4" fill="#fff" fill-opacity="0.78" stroke="none"/>
<rect x="644.79" y="214.70" width="19.99" height="7.4" fill="#fff" fill-opacity="0.95" stroke="none"/>
<rect x="677.57" y="425.57" width="13.53" height="7.4" fill="#fff" fill-opacity="0.78" stroke="none"/>
<rect x="674.33" y="398.82" width="19.99" height="7.4" fill="#fff" fill-opacity="0.78" stroke="none"/>
<rect x="674.33" y="361.41" width="19.99" height="7.4" fill="#fff" fill-opacity="0.78" stroke="none"/>
<rect x="674.33" y="316.64" width="19.99" height="7.4" fill="#fff" fill-opacity="0.78" stroke="none"/>
<rect x="677.57" y="280.62" width="13.53" height="7.4" fill="#fff" fill-opacity="0.78" stroke="none"/>
<rect x="677.57" y="260.94" width="13.53" height="7.4" fill="#fff" fill-opacity="0.78" stroke="none"/>
<rect x="677.57" y="246.13" width="13.53" height="7.4" fill="#fff" fill-opacity="0.78" stroke="none"/>
<rect x="677.57" y="231.77" width="13.53" height="7.4" fill="#fff" fill-opacity="0.78" stroke="none"/>
<rect x="674.33" y="213.79" width="19.99" height="7.4" fill="#fff" fill-opacity="0.95" stroke="none"/>
<polyline fill="none" stroke="#e5532d" stroke-width="1.5" points="93.47,325.90 123.01,323.78 152.56,309.94 182.10,286.35 211.64,272.11 241.19,265.81 270.73,237.51 300.27,236.76 329.81,227.14 359.36,213.20 388.90,197.55 418.44,181.64 447.99,170.39 477.53,161.04 507.07,148.16 536.61,140.60 566.16,135.22 595.70,133.13 625.24,132.58 654.79,132.28 684.33,128.78"/>
<circle cx="93.47" cy="325.90" r="3.05" fill="#e5532d"/>
<circle cx="123.01" cy="323.78" r="3.05" fill="#e5532d"/>
<circle cx="152.56" cy="309.94" r="3.05" fill="#e5532d"/>
<circle cx="182.10" cy="286.35" r="3.05" fill="#e5532d"/>
<circle cx="211.64" cy="272.11" r="3.05" fill="#e5532d"/>
<circle cx="241.19" cy="265.81" r="3.05" fill="#e5532d"/>
<circle cx="270.73" cy="237.51" r="3.05" fill="#e5532d"/>
<circle cx="300.27" cy="236.76" r="3.05" fill="#e5532d"/>
<circle cx="329.81" cy="227.14" r="3.05" fill="#e5532d"/>
<circle cx="359.36" cy="213.20" r="3.05" fill="#e5532d"/>
<circle cx="388.90" cy="197.55" r="3.05" fill="#e5532d"/>
<circle cx="418.44" cy="181.64" r="3.05" fill="#e5532d"/>
<circle cx="447.99" cy="170.39" r="3.05" fill="#e5532d"/>
<circle cx="477.53" cy="161.04" r="3.05" fill="#e5532d"/>
<circle cx="507.07" cy="148.16" r="3.05" fill="#e5532d"/>
<circle cx="536.61" cy="140.60" r="3.05" fill="#e5532d"/>
<circle cx="566.16" cy="135.22" r="3.05" fill="#e5532d"/>
<circle cx="595.70" cy="133.13" r="3.05" fill="#e5532d"/>
<circle cx="625.24" cy="132.58" r="3.05" fill="#e5532d"/>
<circle cx="654.79" cy="132.28" r="3.05" fill="#e5532d"/>
<circle cx="684.33" cy="128.78" r="3.05" fill="#e5532d"/>
<text x="93.47" y="430.44">699</text>
<text x="93.47" y="398.01">1,438</text>
<text x="93.47" y="355.05">1,393</text>
<text x="93.47" y="315.58">1,208</text>
<text x="93.47" y="292.95">385</text>
<text x="99.57" y="285.05">248</text>
<text x="86.97" y="277.15">165</text>
<text x="99.57" y="270.85">114</text>
<text x="91.67" y="259.85">5,650</text>
<text x="123.01" y="429.93">733</text>
<text x="123.01" y="399.67">1,261</text>
<text x="123.01" y="356.30">1,597</text>
<text x="123.01" y="312.38">1,297</text>
<text x="123.01" y="285.05">488</text>
<text x="130.61" y="274.75">288</text>
<text x="117.81" y="266.85">163</text>
<text x="130.81" y="260.75">137</text>
<text x="123.31" y="251.95">5,963</text>
<text x="152.56" y="428.39">834</text>
<text x="152.56" y="397.15">1,225</text>
<text x="152.56" y="354.07">1,614</text>
<text x="151.76" y="301.75">1,418</text>
<text x="152.56" y="278.04">560</text>
<text x="153.56" y="266.05">372</text>
<text x="156.76" y="255.65">199</text>
<text x="147.56" y="248.55">161</text>
<text x="152.06" y="238.15">6,384</text>
<text x="182.10" y="427.60">886</text>
<text x="182.10" y="394.02">1,327</text>
<text x="182.10" y="352.97">1,378</text>
<text x="182.10" y="307.54">1,616</text>
<text x="182.10" y="274.02">593</text>
<text x="182.10" y="260.75">421</text>
<text x="182.10" y="248.40">253</text>
<text x="182.60" y="240.15">192</text>
<text x="182.10" y="230.05">6,666</text>
<text x="211.64" y="429.50">761</text>
<text x="211.64" y="395.07">1,508</text>
<text x="211.64" y="352.52">1,296</text>
<text x="211.64" y="308.31">1,617</text>
<text x="211.64" y="268.85">666</text>
<text x="211.64" y="259.85">426</text>
<text x="211.64" y="246.61">265</text>
<text x="211.64" y="239.12">229</text>
<text x="211.64" y="229.55">6,766</text>
<text x="241.19" y="431.41">635</text>
<text x="241.19" y="398.97">1,503</text>
<text x="241.19" y="355.27">1,377</text>
<text x="241.19" y="313.25">1,392</text>
<text x="241.19" y="282.05">776</text>
<text x="241.19" y="259.15">465</text>
<text x="241.19" y="250.56">257</text>
<text x="241.19" y="242.91">247</text>
<text x="241.49" y="229.35">6,651</text>
<text x="270.73" y="432.79">544</text>
<text x="270.73" y="404.37">1,329</text>
<text x="270.73" y="360.80">1,542</text>
<text x="270.73" y="317.02">1,343</text>
<text x="270.73" y="286.23">686</text>
<text x="270.73" y="266.64">605</text>
<text x="271.43" y="254.25">312</text>
<text x="281.53" y="246.75">273</text>
<text x="270.73" y="228.35">6,632</text>
<text x="300.27" y="433.08">525</text>
<text x="300.27" y="405.53">1,291</text>
<text x="300.27" y="362.12">1,569</text>
<text x="300.27" y="318.09">1,333</text>
<text x="300.27" y="287.92">655</text>
<text x="300.27" y="268.31">637</text>
<text x="300.27" y="254.15">296</text>
<text x="300.27" y="245.29">288</text>
<text x="300.27" y="228.35">6,596</text>
<text x="329.81" y="433.25">514</text>
<text x="329.81" y="406.31">1,261</text>
<text x="329.81" y="363.25">1,577</text>
<text x="329.81" y="318.89">1,346</text>
<text x="329.81" y="288.92">629</text>
<text x="329.81" y="269.86">627</text>
<text x="329.81" y="255.64">310</text>
<text x="329.81" y="246.40">299</text>
<text x="329.31" y="234.45">6,565</text>
<text x="359.36" y="433.19">518</text>
<text x="359.36" y="406.53">1,239</text>
<text x="359.36" y="363.72">1,582</text>
<text x="359.36" y="318.77">1,380</text>
<text x="359.36" y="288.42">620</text>
<text x="359.36" y="269.88">602</text>
<text x="359.36" y="255.51">345</text>
<text x="359.36" y="245.61">307</text>
<text x="359.36" y="231.25">6,593</text>
<text x="388.90" y="433.19">518</text>
<text x="388.90" y="406.91">1,214</text>
<text x="388.90" y="364.57">1,576</text>
<text x="388.90" y="319.32">1,406</text>
<text x="388.90" y="288.57">620</text>
<text x="388.90" y="270.44">575</text>
<text x="388.90" y="255.99">377</text>
<text x="388.90" y="245.38">322</text>
<text x="388.90" y="230.80">6,609</text>
<text x="418.44" y="433.22">516</text>
<text x="418.44" y="407.32">1,191</text>
<text x="418.44" y="365.60">1,558</text>
<text x="418.44" y="320.12">1,439</text>
<text x="418.44" y="288.92">617</text>
<text x="418.44" y="271.12">556</text>
<text x="418.44" y="256.42">413</text>
<text x="418.44" y="245.08">334</text>
<text x="418.44" y="230.31">6,625</text>
<text x="447.99" y="432.87">539</text>
<text x="447.99" y="406.75">1,182</text>
<text x="447.99" y="365.62">1,529</text>
<text x="447.99" y="319.89">1,484</text>
<text x="447.99" y="287.98">619</text>
<text x="447.99" y="270.38">541</text>
<text x="447.99" y="255.34">450</text>
<text x="447.99" y="243.41">336</text>
<text x="447.99" y="228.61">6,678</text>
<text x="477.53" y="432.81">543</text>
<text x="477.53" y="406.77">1,173</text>
<text x="477.53" y="366.18">1,502</text>
<text x="477.53" y="320.18">1,529</text>
<text x="477.53" y="287.43">629</text>
<text x="477.53" y="269.74">537</text>
<text x="477.53" y="254.70">454</text>
<text x="477.53" y="242.26">366</text>
<text x="477.53" y="227.00">6,732</text>
<text x="507.07" y="432.25">580</text>
<text x="507.07" y="405.72">1,168</text>
<text x="507.07" y="365.58">1,477</text>
<text x="507.07" y="319.30">1,573</text>
<text x="507.07" y="285.75">638</text>
<text x="507.07" y="267.87">540</text>
<text x="507.07" y="252.85">450</text>
<text x="507.07" y="239.60">423</text>
<text x="507.07" y="223.48">6,849</text>
<text x="536.61" y="431.98">598</text>
<text x="536.61" y="405.33">1,158</text>
<text x="536.61" y="365.87">1,442</text>
<text x="536.61" y="319.42">1,619</text>
<text x="536.61" y="285.04">647</text>
<text x="536.61" y="266.96">544</text>
<text x="536.61" y="252.06">438</text>
<text x="536.61" y="238.34">466</text>
<text x="536.61" y="221.57">6,912</text>
<text x="566.16" y="432.19">584</text>
<text x="566.16" y="405.75">1,158</text>
<text x="566.16" y="366.98">1,397</text>
<text x="566.16" y="320.96">1,636</text>
<text x="566.16" y="286.07">663</text>
<text x="566.16" y="267.74">545</text>
<text x="566.16" y="253.03">424</text>
<text x="566.16" y="239.09">495</text>
<text x="566.16" y="221.87">6,902</text>
<text x="595.70" y="432.25">580</text>
<text x="595.70" y="405.83">1,161</text>
<text x="595.70" y="367.41">1,371</text>
<text x="595.70" y="321.40">1,661</text>
<text x="595.70" y="286.13">663</text>
<text x="595.70" y="267.80">545</text>
<text x="595.70" y="253.30">410</text>
<text x="595.70" y="239.25">516</text>
<text x="595.70" y="221.72">6,907</text>
<text x="625.24" y="432.37">572</text>
<text x="625.24" y="406.22">1,151</text>
<text x="625.24" y="368.33">1,346</text>
<text x="625.24" y="322.55">1,671</text>
<text x="625.24" y="286.90">678</text>
<text x="625.24" y="268.16">557</text>
<text x="625.24" y="253.71">395</text>
<text x="625.24" y="239.65">532</text>
<text x="625.24" y="221.87">6,902</text>
<text x="654.79" y="432.16">586</text>
<text x="654.79" y="405.72">1,156</text>
<text x="654.79" y="368.16">1,319</text>
<text x="654.79" y="322.88">1,665</text>
<text x="654.79" y="286.99">700</text>
<text x="654.79" y="267.74">569</text>
<text x="654.79" y="253.12">394</text>
<text x="654.79" y="238.99">537</text>
<text x="654.79" y="221.15">6,925</text>
<text x="684.33" y="432.02">595</text>
<text x="684.33" y="405.27">1,168</text>
<text x="684.33" y="367.86">1,297</text>
<text x="684.33" y="323.09">1,653</text>
<text x="684.33" y="287.07">721</text>
<text x="684.33" y="267.39">576</text>
<text x="684.33" y="252.58">400</text>
<text x="684.33" y="238.22">546</text>
<text x="684.33" y="220.24">6,957</text>
<text x="102.9" y="335.8">4.9</text>
<text x="685" y="142.3">13.6</text>
</g>
<g font-family="'Liberation Sans',sans-serif" font-size="11.5" fill="#111" stroke="#111" stroke-width="0.2">
<text x="72.8" y="442.10" text-anchor="end">0</text>
<text x="72.8" y="382.50" text-anchor="end">2,000</text>
<text x="72.8" y="322.10" text-anchor="end">4,000</text>
<text x="72.8" y="262.10" text-anchor="end">6,000</text>
<text x="72.8" y="198.30" text-anchor="end">8,000</text>
<text x="72.8" y="138.40" text-anchor="end">10,000</text>
<text x="72.8" y="78.20" text-anchor="end">12,000</text>
<text x="705" y="442.40">0.0</text>
<text x="705" y="396.88">2.0</text>
<text x="705" y="351.35">4.0</text>
<text x="705" y="305.83">6.0</text>
<text x="705" y="260.30">8.0</text>
<text x="705" y="214.77">10.0</text>
<text x="705" y="169.25">12.0</text>
<text x="705" y="123.72">14.0</text>
<text x="705" y="78.20">16.0</text>
</g>
<g font-family="'Liberation Sans','Noto Sans CJK JP',sans-serif" font-size="10.55" font-weight="bold" fill="#111">
<text x="37.3" y="62.1">労働力人口（万人）</text>
<text x="533" y="62.1">労働力人口に占める65歳以上の割合<tspan dx="2">（</tspan>%）</text>
</g>
<g font-family="'Liberation Sans','Noto Sans CJK JP',sans-serif" font-size="8.6" text-anchor="middle" fill="#111" stroke="#111" stroke-width="0.2">
<text x="93.47" y="451.4"><tspan font-size="7.3" font-weight="bold" stroke="none">昭和</tspan>55</text>
<text x="93.47" y="462.4">(1980)</text>
<text x="123.01" y="451.4">60</text>
<text x="123.01" y="462.4">(1985)</text>
<text x="152.56" y="451.4"><tspan font-size="7.3" font-weight="bold" stroke="none">平成</tspan> 2</text>
<text x="152.56" y="462.4">(1990)</text>
<text x="182.10" y="451.4">7</text>
<text x="182.10" y="462.4">(1995)</text>
<text x="211.64" y="451.4">12</text>
<text x="211.64" y="462.4">(2000)</text>
<text x="241.19" y="451.4">17</text>
<text x="241.19" y="462.4">(2005)</text>
<text x="270.73" y="451.4">22</text>
<text x="270.73" y="462.4">(2010)</text>
<text x="300.27" y="451.4">23</text>
<text x="300.27" y="462.4">(2011)</text>
<text x="329.81" y="451.4">24</text>
<text x="329.81" y="462.4">(2012)</text>
<text x="359.36" y="451.4">25</text>
<text x="359.36" y="462.4">(2013)</text>
<text x="388.90" y="451.4">26</text>
<text x="388.90" y="462.4">(2014)</text>
<text x="418.44" y="451.4">27</text>
<text x="418.44" y="462.4">(2015)</text>
<text x="447.99" y="451.4">28</text>
<text x="447.99" y="462.4">(2016)</text>
<text x="477.53" y="451.4">29</text>
<text x="477.53" y="462.4">(2017)</text>
<text x="507.07" y="451.4">30</text>
<text x="507.07" y="462.4">(2018)</text>
<text x="536.61" y="451.4"><tspan font-size="7.3" font-weight="bold" stroke="none">令和元</tspan></text>
<text x="536.61" y="462.4">(2019)</text>
<text x="566.16" y="451.4">2</text>
<text x="566.16" y="462.4">(2020)</text>
<text x="595.70" y="451.4">3</text>
<text x="595.70" y="462.4">(2021)</text>
<text x="625.24" y="451.4">4</text>
<text x="625.24" y="462.4">(2022)</text>
<text x="654.79" y="451.4">5</text>
<text x="654.79" y="462.4">(2023)</text>
<text x="684.33" y="451.4">6</text>
<text x="684.33" y="462.4">(2024)</text>
<text x="704" y="462.4">(<tspan font-size="7.3" font-weight="bold" stroke="none">年</tspan>)</text>
</g>
<rect x="204.6" y="485.4" width="367.7" height="59.2" fill="#fff" stroke="#111" stroke-width="1"/>
<g font-family="'Liberation Sans','Noto Sans CJK JP',sans-serif" font-size="11.4" fill="#111">
<rect x="219.8" y="493.3" width="21.3" height="9.6" rx="1.3" fill="#f6c9da" stroke="#2a2422" stroke-width="1"/>
<text y="502.1"><tspan x="246.5">15</tspan><tspan x="262.1" font-size="9.5">～</tspan><tspan x="274.3">24</tspan><tspan x="287.5" font-weight="bold" font-size="10.5">歳</tspan></text>
<rect x="317.8" y="493.3" width="21.3" height="9.6" rx="1.3" fill="url(#pB)" stroke="#2a2422" stroke-width="1"/>
<text y="502.1"><tspan x="344.0">25</tspan><tspan x="359.6" font-size="9.5">～</tspan><tspan x="371.8">34</tspan><tspan x="385.0" font-weight="bold" font-size="10.5">歳</tspan></text>
<rect x="414.6" y="493.3" width="21.3" height="9.6" rx="1.3" fill="url(#pS)" stroke="#2a2422" stroke-width="1"/>
<text y="502.1"><tspan x="441.3">35</tspan><tspan x="456.9" font-size="9.5">～</tspan><tspan x="469.1">44</tspan><tspan x="482.3" font-weight="bold" font-size="10.5">歳</tspan></text>
<rect x="219.8" y="510.6" width="21.3" height="9.6" rx="1.3" fill="url(#pG)" stroke="#2a2422" stroke-width="1"/>
<text y="519.4"><tspan x="246.5">45</tspan><tspan x="262.1" font-size="9.5">～</tspan><tspan x="274.3">54</tspan><tspan x="287.5" font-weight="bold" font-size="10.5">歳</tspan></text>
<rect x="317.8" y="510.6" width="21.3" height="9.6" rx="1.3" fill="#fbdcc0" stroke="#2a2422" stroke-width="1"/>
<text y="519.4"><tspan x="344.0">55</tspan><tspan x="359.6" font-size="9.5">～</tspan><tspan x="371.8">59</tspan><tspan x="385.0" font-weight="bold" font-size="10.5">歳</tspan></text>
<rect x="414.6" y="510.6" width="21.3" height="9.6" rx="1.3" fill="url(#pC)" stroke="#2a2422" stroke-width="1"/>
<text y="519.4"><tspan x="441.3">60</tspan><tspan x="456.9" font-size="9.5">～</tspan><tspan x="469.1">64</tspan><tspan x="482.3" font-weight="bold" font-size="10.5">歳</tspan></text>
<rect x="219.8" y="529.1" width="21.3" height="9.6" rx="1.3" fill="#c9dcf0" stroke="#2a2422" stroke-width="1"/>
<text y="537.9"><tspan x="246.5">65</tspan><tspan x="262.1" font-size="9.5">～</tspan><tspan x="274.3">69</tspan><tspan x="287.5" font-weight="bold" font-size="10.5">歳</tspan></text>
<rect x="317.8" y="529.1" width="21.3" height="9.6" rx="1.3" fill="url(#pR)" stroke="#2a2422" stroke-width="1"/>
<text y="537.9"><tspan x="344.0">70</tspan><tspan font-weight="bold" font-size="10.5" dx="0.3">歳以上</tspan></text>
<line x1="414.6" y1="533.8" x2="435.90000000000003" y2="533.8" stroke="#e5532d" stroke-width="1.3"/><circle cx="425.20000000000005" cy="533.8" r="3" fill="#e5532d"/>
<text y="537.9"><tspan x="441.3">65</tspan><tspan font-weight="bold" font-size="10.5" dx="0.3">歳以上割合</tspan><tspan dx="-4.6" font-size="10.5">（</tspan><tspan font-weight="bold" font-size="10.5" dx="-0.8">右目盛り</tspan><tspan dx="-0.6" font-size="10.5">）</tspan></text>
</g>
<g font-family="'Liberation Serif','Noto Serif CJK JP','Noto Serif CJK SC',serif" font-size="10.45" font-weight="bold" fill="#111">
<text x="37.3" y="563.00" letter-spacing="0.55">資料：総務省「労働力調査」</text>
<text y="575.55" x="31.6 41.8 53.4 63.6">（注１）</text>
<text x="70.2" y="575.55" letter-spacing="-0.15">年平均の値</text>
<text y="588.10" x="31.6 41.8 53.4 63.6">（注２）</text>
<text x="64.0" y="588.10" letter-spacing="0.261"><tspan dx="-1">「</tspan>労働力人口」とは、<tspan font-size="11.3" dx="2.6">15</tspan>歳以上人口のうち、就業者と完全失業者を合わせたものをいう。</text>
<text y="600.65" x="31.6 41.8 53.4 63.6">（注３）</text>
<text x="70.2" y="600.65" letter-spacing="0.317">平成<tspan font-size="11.3">23</tspan>年は岩手県、宮城県及び福島県において調査実施が一時困難となったため、補完的に推計した値を用いている。</text>
<text y="613.20" x="31.6 41.8 53.4 63.6">（注４）</text>
<text x="70.2" y="613.20" letter-spacing="0.348">四捨五入のため合計は必ずしも一致しない。</text>
</g>
</svg>
</body></html>
